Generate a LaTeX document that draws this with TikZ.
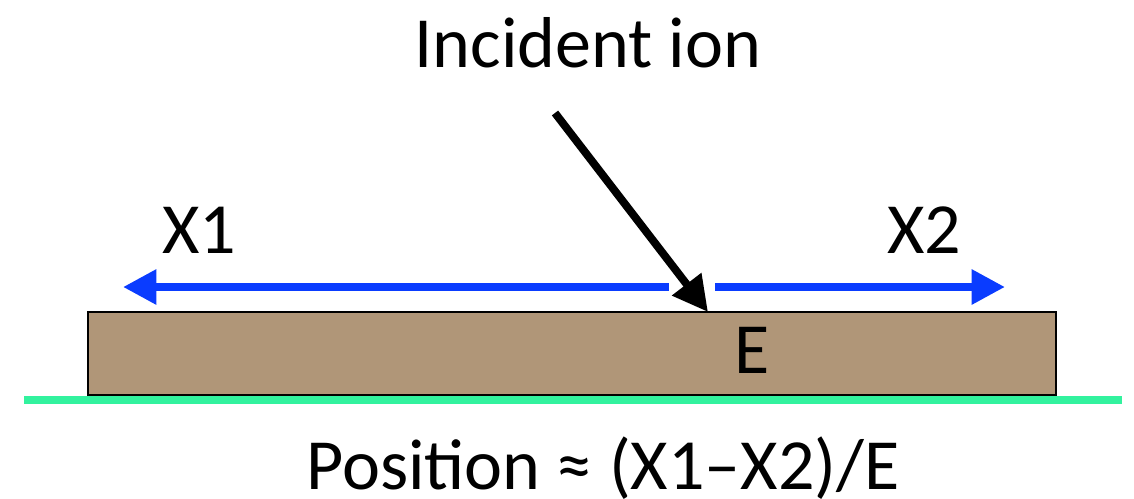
\documentclass[tikz,border=0pt]{standalone}
\usepackage{fontspec}
\setmainfont{Carlito}
\usetikzlibrary{arrows.meta}
\definecolor{slabbrown}{RGB}{176,150,120}
\definecolor{basegreen}{RGB}{50,242,158}
\definecolor{trackblue}{RGB}{10,60,255}
\begin{document}
\begin{tikzpicture}[x=0.02cm, y=-0.02cm,
    txt/.style={font=\fontsize{41}{49}\selectfont, anchor=base, inner sep=0pt},
    track/.style={draw=trackblue, line width=4.5pt, -{Triangle[length=19pt, width=19pt]}},
    ion/.style={draw=black, line width=4.5pt, -{Triangle[length=20pt, width=20pt]}}]
    \useasboundingbox (0,0) rectangle (1134,498);

    % substrate and slab
    \draw[basegreen, line width=4pt] (24,400) -- (1122,400);
    \draw[fill=slabbrown, line width=1.2pt] (88,312) rectangle (1056,395);

    % labels
    \node[txt] (ion) at (588,67) {Incident ion};
    \node[txt] (x1) at (199,253) {X1};
    \node[txt] (x2) at (924,253) {X2};
    \node[txt] (e) at (752,373) {E};
    \node[txt] (pos) at (603,489) {Position ≈ (X1–X2)/E};

    % tracks and incoming ion
    \coordinate (hit) at (708,312);
    \coordinate (src) at (555,113);
    \coordinate (l0) at (669,287);
    \coordinate (l1) at (123,287);
    \coordinate (r0) at (715,287);
    \coordinate (r1) at (1005,287);
    \draw[track] (l0) -- (l1);
    \draw[track] (r0) -- (r1);
    \draw[ion] (src) -- (hit);
\end{tikzpicture}
\end{document}
